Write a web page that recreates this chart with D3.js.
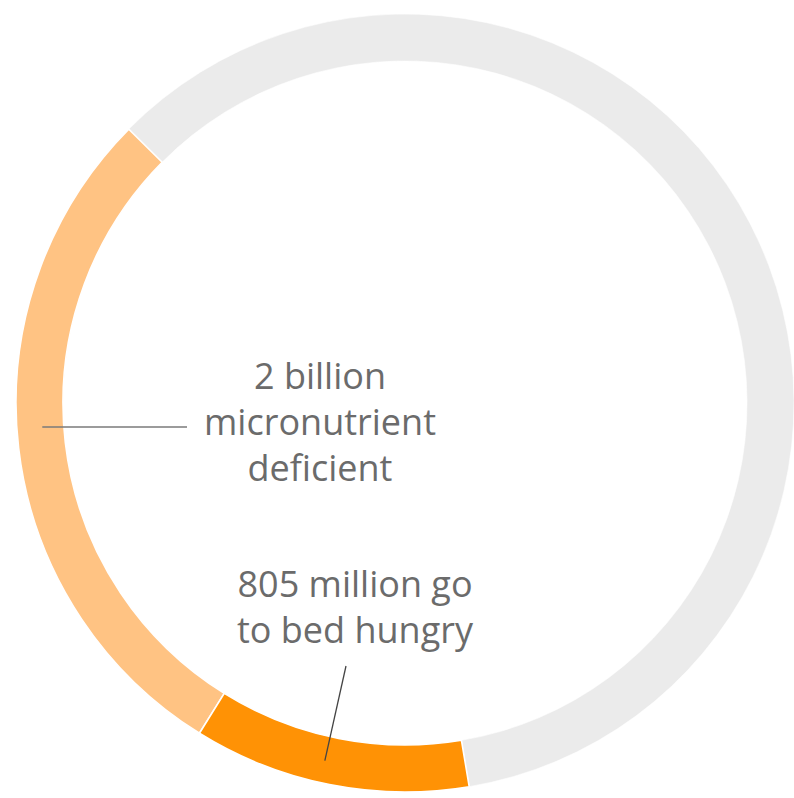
<!DOCTYPE html>
<html>
<head>
<meta charset="utf-8">
<script src="https://cdn.jsdelivr.net/npm/d3@7"></script>
<style>
  html, body { margin: 0; padding: 0; background: #fff; }
  svg { display: block; }
  text { font-family: "Open Sans", sans-serif; fill: #6b6b6b; }
</style>
</head>
<body>
<div id="chart"></div>
<script>
// Data: world population split (millions)
var groups = ['hungry', 'deficient', 'rest'];
var values = [805, 2000, 4195];
var colors = ['#ff9205', '#ffc383', '#ebebeb'];
var labelLines = [
  ['805 million go', 'to bed hungry'],
  ['2 billion', 'micronutrient', 'deficient'],
  []
];

var width = 794,
  height = 798,
  cx = 405,
  cy = 403,
  outerR = 389,
  innerR = 342,
  midR = (outerR + innerR) / 2;

var svg = d3.select('#chart').append('svg')
  .attr('width', width)
  .attr('height', height);

var g = svg.append('g')
  .attr('transform', 'translate(' + cx + ',' + cy + ')');

// Pie starts just right of the bottom and runs clockwise
var startAngle = 170.5 * Math.PI / 180;
var pie = d3.pie()
  .sort(null)
  .value(function (d) { return d.value; })
  .startAngle(startAngle)
  .endAngle(startAngle + 2 * Math.PI);

var arc = d3.arc()
  .innerRadius(innerR)
  .outerRadius(outerR);

var arcs = pie(groups.map(function (id, i) {
  return { id: id, value: values[i] };
}));

var color = d3.scaleOrdinal().domain(groups).range(colors);

// draw the rest first so the orange joins sit on top
g.selectAll('path.seg')
  .data(arcs.slice().reverse())
  .enter().append('path')
  .attr('class', 'seg')
  .attr('d', arc)
  .attr('fill', function (d) { return color(d.data.id); })
  .attr('stroke', '#fff')
  .attr('stroke-width', function (d) { return d.data.id === 'rest' ? 0.6 : 1.6; });

var fontSize = 36,
  lineH = 46;

// label for the 2 billion segment, centred in the ring
var defLabel = { x: 320 - cx, y: 389 - cy };
var tDef = g.append('text')
  .attr('text-anchor', 'middle')
  .style('font-size', fontSize + 'px');
labelLines[1].forEach(function (s, i) {
  tDef.append('tspan')
    .attr('x', defLabel.x)
    .attr('y', defLabel.y + i * lineH)
    .text(s);
});

// leader: horizontal line from middle of ring to the label's second line
var leadY = defLabel.y + lineH - 8;
var leadX0 = -Math.sqrt(midR * midR - leadY * leadY) + 2;
g.append('line')
  .attr('x1', leadX0)
  .attr('y1', leadY)
  .attr('x2', defLabel.x - 133)
  .attr('y2', leadY)
  .attr('stroke', '#7a7a7a')
  .attr('stroke-width', 1.3);

// label for the 805 million segment
var hunLabel = { x: 355 - cx, y: 597 - cy };
var tHun = g.append('text')
  .attr('text-anchor', 'middle')
  .style('font-size', fontSize + 'px');
labelLines[0].forEach(function (s, i) {
  tHun.append('tspan')
    .attr('x', hunLabel.x)
    .attr('y', hunLabel.y + i * lineH)
    .text(s);
});

// leader: from the segment's middle up towards the label
var a0 = (arcs[0].startAngle + arcs[0].endAngle) / 2 + 0.025;
var px = Math.sin(a0) * (midR + 1),
  py = -Math.cos(a0) * (midR + 1);
g.append('line')
  .attr('x1', px)
  .attr('y1', py)
  .attr('x2', hunLabel.x - 9)
  .attr('y2', hunLabel.y + lineH + 23)
  .attr('stroke', '#444')
  .attr('stroke-width', 1.3);
</script>
</body>
</html>
